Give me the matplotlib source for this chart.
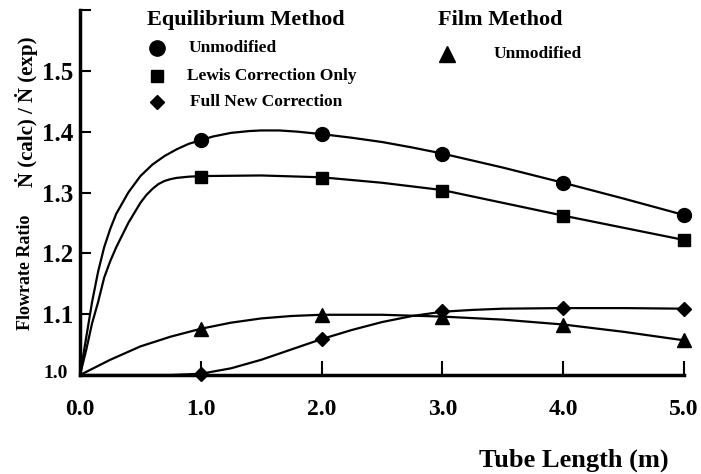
import numpy as np
import matplotlib
matplotlib.use("Agg")
import matplotlib.pyplot as plt
from matplotlib.lines import Line2D

plt.rcParams['font.family'] = ['Liberation Serif', 'DejaVu Serif']
plt.rcParams['font.weight'] = 'bold'

# measured points
length = [1.0, 2.0, 3.0, 4.0, 5.0]
eq_unmod = [1.386, 1.396, 1.364, 1.316, 1.263]
eq_lewis = [1.325, 1.324, 1.303, 1.261, 1.222]
eq_full = [1.001, 1.060, 1.105, 1.110, 1.108]
film_unmod = [1.076, 1.099, 1.096, 1.083, 1.057]

# fitted curves
fit_x_unmod = [0, 0.05, 0.1, 0.15, 0.2, 0.25, 0.3, 0.4, 0.5, 0.6, 0.7, 0.8, 0.9, 1.0,
               1.1, 1.25, 1.4, 1.5, 1.65, 1.8, 2.0, 2.25, 2.5, 2.75, 3.0, 3.5, 4.0,
               4.5, 5.0]
fit_unmod = [1.0, 1.06, 1.12, 1.17, 1.21, 1.24, 1.265, 1.30, 1.327, 1.346, 1.360,
             1.371, 1.380, 1.386, 1.392, 1.398, 1.401, 1.402, 1.402, 1.400, 1.396,
             1.390, 1.383, 1.374, 1.364, 1.341, 1.316, 1.290, 1.263]
fit_x_lewis = [0, 0.05, 0.1, 0.15, 0.2, 0.25, 0.3, 0.4, 0.5, 0.55, 0.6, 0.65, 0.7,
               0.75, 0.8, 0.9, 1.0, 1.5, 2.0, 2.5, 3.0, 3.5, 4.0, 4.5, 5.0]
fit_lewis = [1.0, 1.04, 1.085, 1.12, 1.16, 1.187, 1.21, 1.25, 1.283, 1.296, 1.306,
             1.314, 1.319, 1.322, 1.324, 1.326, 1.327, 1.328, 1.325, 1.316, 1.304,
             1.283, 1.262, 1.242, 1.222]
fit_x_full = [0, 0.5, 0.75, 1.0, 1.25, 1.5, 1.75, 2.0, 2.25, 2.5, 2.75, 3.0, 3.25,
              3.5, 4.0, 4.5, 5.0]
fit_full = [1.0, 1.0, 1.0, 1.002, 1.011, 1.025, 1.042, 1.059, 1.074, 1.087, 1.097,
            1.104, 1.107, 1.109, 1.110, 1.110, 1.109]
fit_x_film = [0, 0.25, 0.5, 0.75, 1.0, 1.25, 1.5, 1.75, 2.0, 2.5, 3.0, 3.5, 4.0,
              4.5, 5.0]
fit_film = [1.0, 1.025, 1.047, 1.063, 1.076, 1.086, 1.093, 1.097, 1.099, 1.099,
            1.096, 1.091, 1.083, 1.071, 1.057]

xticks = [0, 1, 2, 3, 4, 5]
yticks = [1.0, 1.1, 1.2, 1.3, 1.4, 1.5, 1.6]
yticklabels = ['', '1.1', '1.2', '1.3', '1.4', '1.5', '']

fig = plt.figure(figsize=(7.01, 4.74), dpi=100)
ax = fig.add_axes([80/701, 1-375/474, 604/701, 365/474])

lw = 1.6
ax.plot(fit_x_unmod, fit_unmod, color='k', lw=lw)
ax.plot(fit_x_lewis, fit_lewis, color='k', lw=lw)
ax.plot(fit_x_full, fit_full, color='k', lw=lw)
ax.plot(fit_x_film, fit_film, color='k', lw=lw)

ax.plot(length, eq_unmod, 'o', color='k', ms=10, clip_on=False)
ax.plot(length, eq_lewis, 's', color='k', ms=9, clip_on=False)
ax.plot(length, eq_full, 'D', color='k', ms=7, clip_on=False)
ax.plot(length, film_unmod, '^', color='k', ms=10, clip_on=False)

ax.set_xlim(0, 5)
ax.set_ylim(1.0, 1.6)
ax.set_xticks(xticks)
ax.set_xticklabels(['%.1f' % v for v in xticks], fontsize=17, fontweight='bold')
ax.set_yticks(yticks)
ax.set_yticklabels(yticklabels, fontsize=18, fontweight='bold')
ax.tick_params(axis='x', direction='in', length=10, width=1.5, pad=17)
ax.tick_params(axis='y', direction='in', length=8, width=1.5, pad=5)
for s in ['top', 'right']:
    ax.spines[s].set_visible(False)
for s in ['left', 'bottom']:
    ax.spines[s].set_linewidth(2.5)

# smaller 1.0 label at the origin
fig.text(68/701, 1-373/474, '1.0', fontsize=14, fontweight='bold',
         ha='right', va='center')

fig.text(26/701, 1-272/474, 'Flowrate Ratio', rotation=90, fontsize=13,
         fontweight='bold', ha='center', va='center')
fig.text(26/701, 1-112/474, '\u1e44 (calc) / \u1e44 (exp)', rotation=90,
         fontsize=15, fontweight='bold', ha='center', va='center')
fig.text(574/701, 1-460/474, 'Tube Length (m)', fontsize=19,
         fontweight='bold', ha='center', va='center')

# legend block
fig.text(147/701, 1-20/474, 'Equilibrium Method', fontsize=16,
         fontweight='bold', ha='left', va='center')
fig.text(438/701, 1-20/474, 'Film Method', fontsize=16,
         fontweight='bold', ha='left', va='center')
items = [('o', 11, 157, 48, 189, 'Unmodified'),
         ('s', 9, 157, 76, 187, 'Lewis Correction Only'),
         ('D', 7, 157, 102, 190, 'Full New Correction'),
         ('^', 11, 447, 54, 494, 'Unmodified')]
for m, ms, mx, my, tx, label in items:
    fig.add_artist(Line2D([mx/701], [1-my/474], marker=m, ms=ms, color='k',
                          transform=fig.transFigure))
    fig.text(tx/701, 1-my/474, label, fontsize=12.5, fontweight='bold',
             ha='left', va='center')

fig.savefig('out.png', dpi=100)
